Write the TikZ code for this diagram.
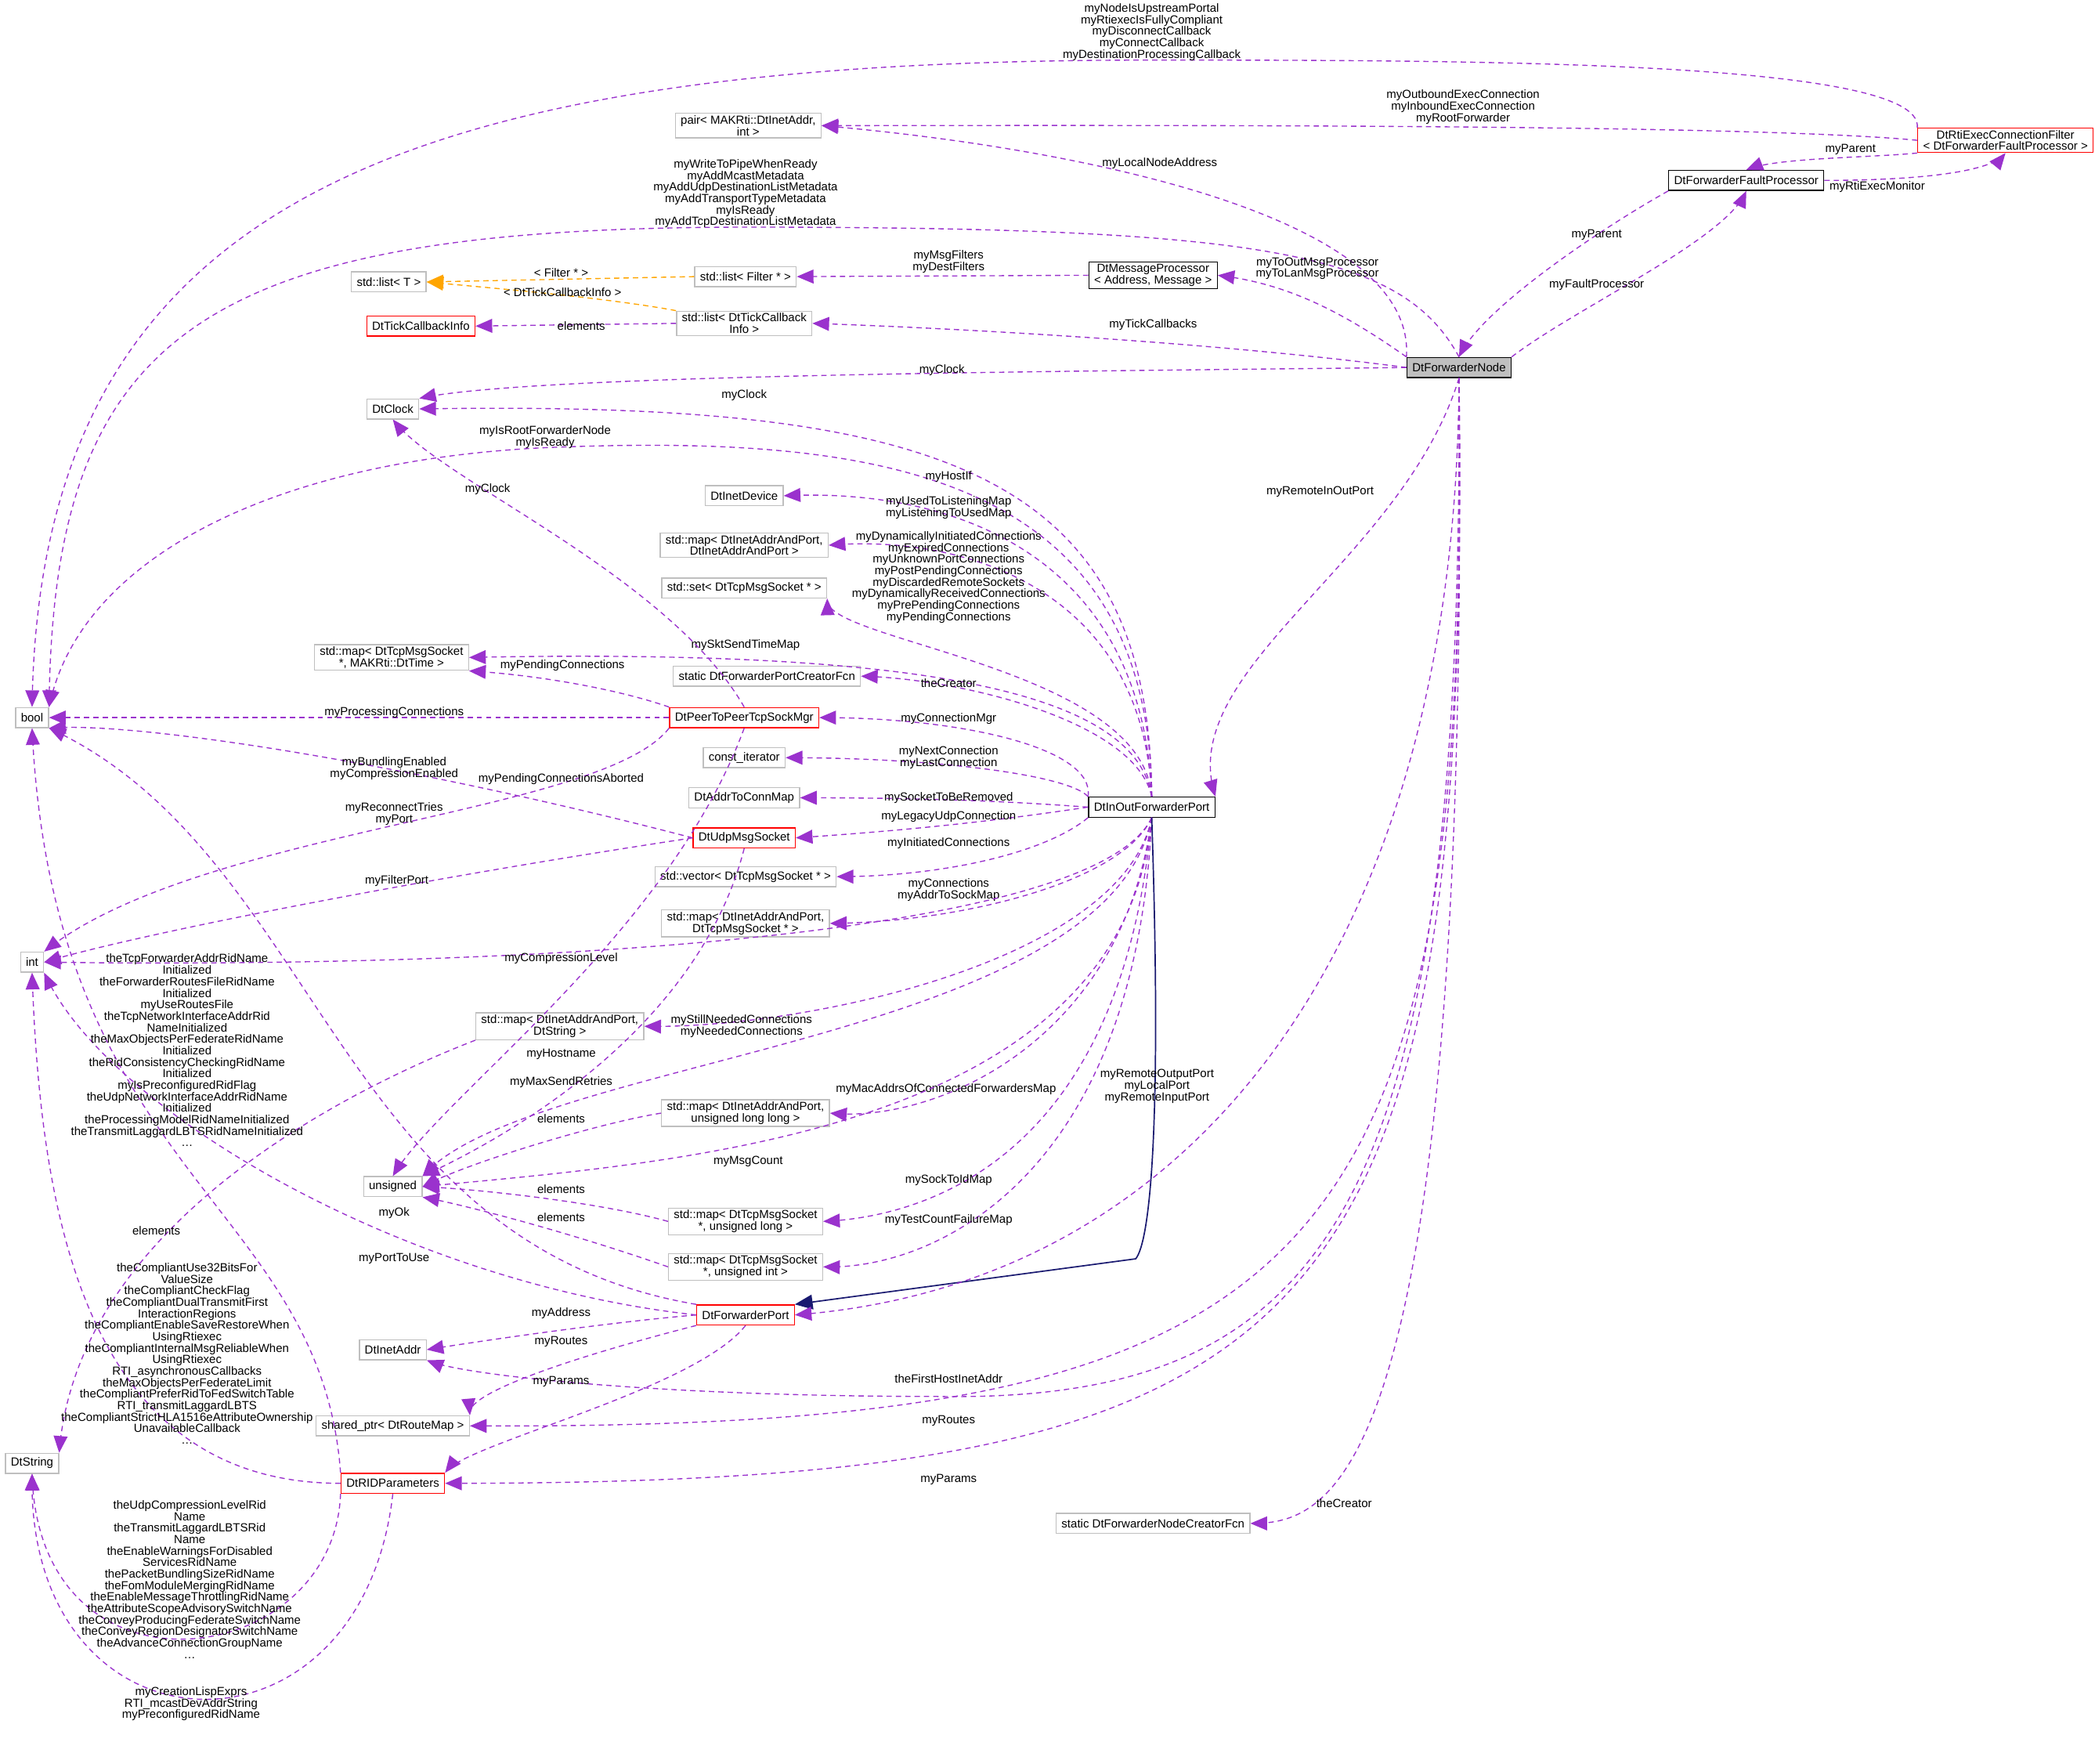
\documentclass[tikz,border=0pt]{standalone}
\usepackage{fontspec}
\setmainfont{Liberation Sans}
\usetikzlibrary{arrows}
\definecolor{edgepurple}{HTML}{9A32CD}
\definecolor{tmplorange}{HTML}{FFA500}
\definecolor{inhblue}{HTML}{191970}
\definecolor{boxgray}{HTML}{BFBFBF}
\newcommand{\lblfont}{\fontsize{4.4}{4.3}\selectfont}
\tikzset{
  box/.style={draw=boxgray, line width=0.4pt, font=\lblfont, align=center, minimum height=7.5pt, inner xsep=2pt, inner ysep=0.8pt},
  redbox/.style={box, draw=red},
  blackbox/.style={box, draw=black},
  lbl/.style={font=\lblfont, align=center, inner sep=0.5pt},
  edge/.style={draw=edgepurple, dashed, dash pattern=on 2pt off 1.5pt, line width=0.4pt, -triangle 45},
  tmpl/.style={edge, draw=tmplorange},
  inh/.style={draw=inhblue, line width=0.5pt, -triangle 45}
}
\begin{document}
\begin{tikzpicture}[x=0.5pt,y=-0.5pt]
\useasboundingbox (0,0) rectangle (1568,1320);

% Boxes
\node[box] (pair) at (560,94) {pair< MAKRti::DtInetAddr,\\ int >};
\node[redbox] (rtiFilter) at (1501,105) {DtRtiExecConnectionFilter\\< DtForwarderFaultProcessor >};
\node[blackbox] (faultProc) at (1307,135) {DtForwarderFaultProcessor};
\node[blackbox] (msgProc) at (863,206) {DtMessageProcessor\\< Address, Message >};
\node[box] (listT) at (291,211) {std::list< T >};
\node[box] (listFilter) at (558,207) {std::list< Filter * >};
\node[box] (listTick) at (557,242) {std::list< DtTickCallback\\Info >};
\node[redbox] (tickInfo) at (315,244) {DtTickCallbackInfo};
\node[blackbox, fill=boxgray] (fwdNode) at (1092,275) {DtForwarderNode};
\node[box] (clock) at (294,306) {DtClock};
\node[box] (inetDev) at (557,371) {DtInetDevice};
\node[box] (mapAddrAddr) at (557,408) {std::map< DtInetAddrAndPort,\\ DtInetAddrAndPort >};
\node[box] (setTcp) at (557,440) {std::set< DtTcpMsgSocket * >};
\node[box] (mapTcpTime) at (293,492) {std::map< DtTcpMsgSocket\\ *, MAKRti::DtTime >};
\node[box] (portCreator) at (574,506) {static DtForwarderPortCreatorFcn};
\node[box] (bool) at (24,537) {bool};
\node[redbox] (sockMgr) at (557,537) {DtPeerToPeerTcpSockMgr};
\node[box] (constIt) at (557,567) {const\_iterator};
\node[box] (addrMap) at (557,597) {DtAddrToConnMap};
\node[blackbox] (inOutPort) at (862,604) {DtInOutForwarderPort};
\node[redbox] (udpSock) at (557,627) {DtUdpMsgSocket};
\node[box] (vecTcp) at (558,656) {std::vector< DtTcpMsgSocket * >};
\node[box] (mapAddrTcp) at (558,691) {std::map< DtInetAddrAndPort,\\ DtTcpMsgSocket * >};
\node[box] (int) at (24,720) {int};
\node[box] (mapAddrStr) at (419,768) {std::map< DtInetAddrAndPort,\\ DtString >};
\node[box] (mapAddrULL) at (558,833) {std::map< DtInetAddrAndPort,\\ unsigned long long >};
\node[box] (unsigned) at (294,888) {unsigned};
\node[box] (mapTcpUL) at (558,914) {std::map< DtTcpMsgSocket\\ *, unsigned long >};
\node[box] (mapTcpUI) at (558,948) {std::map< DtTcpMsgSocket\\ *, unsigned int >};
\node[redbox] (fwdPort) at (558,984) {DtForwarderPort};
\node[box] (inetAddr) at (294,1010) {DtInetAddr};
\node[box] (routeMap) at (294,1067) {shared\_ptr< DtRouteMap >};
\node[box] (dtString) at (24,1095) {DtString};
\node[redbox] (ridParams) at (294,1110) {DtRIDParameters};
\node[box] (nodeCreator) at (863,1140) {static DtForwarderNodeCreatorFcn};

% Edges of DtRtiExecConnectionFilter and DtForwarderFaultProcessor
\draw[edge] (rtiFilter.north west) .. controls (1440,45) and (1100,45) .. (860,45) .. controls (300,45) and (30,150) .. (bool.north);
\node[lbl] (lRtiBool) at (862,24) {myNodeIsUpstreamPortal\\myRtiexecIsFullyCompliant\\myDisconnectCallback\\myConnectCallback\\myDestinationProcessingCallback};
\draw[edge] (rtiFilter.west) .. controls (1300,92) and (800,94) .. (pair.east);
\node[lbl] (lRtiPair) at (1095,80) {myOutboundExecConnection\\myInboundExecConnection\\myRootForwarder};
\draw[edge] (rtiFilter.south west) .. controls (1400,118) and (1330,118) .. (faultProc.north);
\node[lbl] (lRtiFault) at (1385,112) {myParent};
\draw[edge] (faultProc.east) .. controls (1440,135) and (1490,128) .. (rtiFilter.south);
\node[lbl] (lFaultRti) at (1405,140) {myRtiExecMonitor};
\draw[edge] (faultProc.south west) .. controls (1200,170) and (1110,230) .. (fwdNode.north);
\node[lbl] (lFaultNode) at (1195,176) {myParent};
\draw[edge] (fwdNode.north east) .. controls (1180,230) and (1290,180) .. (faultProc.south);
\node[lbl] (lNodeFault) at (1195,213) {myFaultProcessor};

% Edges of DtForwarderNode, upper part
\draw[edge] (fwdNode.north west) .. controls (1060,160) and (800,110) .. (pair.east);
\node[lbl] (lNodePair) at (868,122) {myLocalNodeAddress};
\draw[edge] (fwdNode.north) .. controls (1050,190) and (950,170) .. (560,170) .. controls (150,170) and (40,250) .. (bool.north east);
\node[lbl] (lNodeBool) at (558,145) {myWriteToPipeWhenReady\\myAddMcastMetadata\\myAddUdpDestinationListMetadata\\myAddTransportTypeMetadata\\myIsReady\\myAddTcpDestinationListMetadata};
\draw[edge] (fwdNode.north west) .. controls (1000,230) and (960,212) .. (msgProc.east);
\node[lbl] (lNodeMsg) at (986,201) {myToOutMsgProcessor\\myToLanMsgProcessor};
\draw[edge] (msgProc.west) -- (listFilter.east);
\node[lbl] (lMsgFilter) at (710,196) {myMsgFilters\\myDestFilters};
\draw[tmpl] (listFilter.west) -- (listT.east);
\node[lbl] (lFilterT) at (420,204) {< Filter * >};
\draw[tmpl] (listTick.north west) .. controls (450,222) and (350,214) .. (listT.east);
\node[lbl] (lTickT) at (421,219) {< DtTickCallbackInfo >};
\draw[edge] (listTick.west) -- (tickInfo.east);
\node[lbl] (lTickInfo) at (435,244) {elements};
\draw[edge] (fwdNode.west) .. controls (900,255) and (700,245) .. (listTick.east);
\node[lbl] (lNodeTick) at (863,243) {myTickCallbacks};
\draw[edge] (fwdNode.west) .. controls (800,278) and (400,280) .. (clock.north east);
\node[lbl] (lNodeClock) at (705,277) {myClock};

% Edges of DtInOutForwarderPort, upward
\draw[edge] (inOutPort.north) .. controls (860,350) and (700,300) .. (clock.east);
\node[lbl] (lPortClock) at (557,296) {myClock};
\draw[edge] (inOutPort.north) .. controls (860,350) and (650,325) .. (408,335) .. controls (200,345) and (60,420) .. (bool.north east);
\node[lbl] (lPortBool) at (408,327) {myIsRootForwarderNode\\myIsReady};
\draw[edge] (inOutPort.north) .. controls (855,420) and (720,365) .. (inetDev.east);
\node[lbl] (lPortDev) at (710,357) {myHostIf};
\draw[edge] (inOutPort.north) .. controls (855,440) and (720,400) .. (mapAddrAddr.east);
\node[lbl] (lPortAddrAddr) at (710,380) {myUsedToListeningMap\\myListeningToUsedMap};
\draw[edge] (inOutPort.north) .. controls (855,500) and (620,480) .. (setTcp.south east);
\node[lbl] (lPortSet) at (710,432) {myDynamicallyInitiatedConnections\\myExpiredConnections\\myUnknownPortConnections\\myPostPendingConnections\\myDiscardedRemoteSockets\\myDynamicallyReceivedConnections\\myPrePendingConnections\\myPendingConnections};
\draw[edge] (inOutPort.north) .. controls (850,520) and (700,485) .. (mapTcpTime.east);
\node[lbl] (lPortTime) at (558,483) {mySktSendTimeMap};
\draw[edge] (inOutPort.north) .. controls (850,540) and (720,508) .. (portCreator.east);
\node[lbl] (lPortCreator) at (710,511) {theCreator};
\draw[edge] (inOutPort.north west) .. controls (820,560) and (720,537) .. (sockMgr.east);
\node[lbl] (lPortMgr) at (710,538) {myConnectionMgr};
\draw[edge] (inOutPort.north west) .. controls (800,580) and (700,567) .. (constIt.east);
\node[lbl] (lPortIt) at (710,567) {myNextConnection\\myLastConnection};
\draw[edge] (inOutPort.west) .. controls (760,600) and (700,597) .. (addrMap.east);
\node[lbl] (lPortMap) at (710,597) {mySocketToBeRemoved};
\draw[edge] (inOutPort.west) .. controls (760,612) and (700,620) .. (udpSock.east);
\node[lbl] (lPortUdp) at (710,611) {myLegacyUdpConnection};

% Edges of DtPeerToPeerTcpSockMgr and DtUdpMsgSocket
\draw[edge] (sockMgr.north) .. controls (500,430) and (330,360) .. (clock.south);
\node[lbl] (lMgrClock) at (365,366) {myClock};
\draw[edge] (sockMgr.north west) .. controls (460,515) and (400,505) .. (mapTcpTime.south east);
\node[lbl] (lMgrTime) at (421,498) {myPendingConnections};
\draw[edge] (sockMgr.west) -- (bool.east);
\node[lbl] (lMgrBool) at (295,533) {myProcessingConnections};
\draw[edge] (sockMgr.south west) .. controls (450,610) and (150,620) .. (int.north east);
\node[lbl] (lMgrInt) at (295,609) {myReconnectTries\\myPort};
\draw[edge] (sockMgr.south) .. controls (500,700) and (330,820) .. (unsigned.north);
\node[lbl] (lMgrUns) at (420,583) {myPendingConnectionsAborted};
\draw[edge] (udpSock.west) .. controls (300,570) and (100,540) .. (bool.south east);
\node[lbl] (lUdpBool) at (295,575) {myBundlingEnabled\\myCompressionEnabled};
\draw[edge] (udpSock.west) .. controls (300,660) and (100,700) .. (int.east);
\node[lbl] (lUdpInt) at (297,659) {myFilterPort};
\draw[edge] (udpSock.south) .. controls (520,780) and (360,860) .. (unsigned.north east);
\node[lbl] (lUdpUns) at (420,810) {myMaxSendRetries};

% Edges of DtInOutForwarderPort, downward
\draw[edge] (inOutPort.south west) .. controls (780,640) and (700,656) .. (vecTcp.east);
\node[lbl] (lPortVec) at (710,631) {myInitiatedConnections};
\draw[edge] (inOutPort.south) .. controls (840,660) and (720,690) .. (mapAddrTcp.east);
\node[lbl] (lPortAddrTcp) at (710,666) {myConnections\\myAddrToSockMap};
\draw[edge] (inOutPort.south) .. controls (820,700) and (400,725) .. (int.east);
\node[lbl] (lPortInt) at (420,717) {myCompressionLevel};
\draw[edge] (inOutPort.south) .. controls (840,720) and (600,770) .. (mapAddrStr.east);
\node[lbl] (lPortStr) at (555,768) {myStillNeededConnections\\myNeededConnections};
\draw[edge] (mapAddrStr.south west) .. controls (300,800) and (60,900) .. (dtString.north east);
\node[lbl] (lStrString) at (117,921) {elements};
\draw[edge] (inOutPort.south) .. controls (830,780) and (400,790) .. (unsigned.north east);
\node[lbl] (lPortHost) at (420,789) {myHostname};
\draw[edge] (inOutPort.south) .. controls (840,780) and (700,840) .. (mapAddrULL.east);
\node[lbl] (lPortULL) at (708,815) {myMacAddrsOfConnectedForwardersMap};
\draw[edge] (mapAddrULL.west) .. controls (450,840) and (350,870) .. (unsigned.east);
\node[lbl] (lULLUns) at (420,837) {elements};
\draw[edge] (inOutPort.south) .. controls (840,850) and (500,870) .. (unsigned.east);
\node[lbl] (lPortCount) at (560,869) {myMsgCount};
\draw[edge] (inOutPort.south) .. controls (840,860) and (700,910) .. (mapTcpUL.east);
\node[lbl] (lPortUL) at (710,883) {mySockToIdMap};
\draw[edge] (mapTcpUL.west) .. controls (450,900) and (360,890) .. (unsigned.east);
\node[lbl] (lULUns) at (420,890) {elements};
\draw[edge] (inOutPort.south) .. controls (850,880) and (700,950) .. (mapTcpUI.east);
\node[lbl] (lPortUI) at (710,913) {myTestCountFailureMap};
\draw[edge] (mapTcpUI.west) .. controls (420,920) and (340,900) .. (unsigned.south east);
\node[lbl] (lUIUns) at (420,911) {elements};
\draw[inh] (inOutPort.south) .. controls (870,850) and (860,930) .. (850,942) -- (fwdPort.north east);

% Edges of DtForwarderNode, downward
\draw[edge] (fwdNode.south) .. controls (1050,420) and (880,500) .. (inOutPort.north east);
\node[lbl] (lNodePort) at (988,368) {myRemoteInOutPort};
\draw[edge] (fwdNode.south) .. controls (1090,700) and (900,960) .. (fwdPort.east);
\node[lbl] (lNodeFwdPort) at (866,813) {myRemoteOutputPort\\myLocalPort\\myRemoteInputPort};
\draw[edge] (fwdNode.south) .. controls (1095,900) and (1000,1050) .. (700,1045) .. controls (500,1045) and (350,1030) .. (inetAddr.south east);
\node[lbl] (lNodeAddr) at (710,1032) {theFirstHostInetAddr};
\draw[edge] (fwdNode.south) .. controls (1100,950) and (1000,1070) .. (routeMap.east);
\node[lbl] (lNodeRoutes) at (710,1063) {myRoutes};
\draw[edge] (fwdNode.south) .. controls (1100,1000) and (1000,1110) .. (ridParams.east);
\node[lbl] (lNodeParams) at (710,1107) {myParams};
\draw[edge] (fwdNode.south) .. controls (1100,1100) and (1000,1140) .. (nodeCreator.east);
\node[lbl] (lNodeCreator) at (1006,1125) {theCreator};

% Edges of DtForwarderPort
\draw[edge] (fwdPort.north west) .. controls (250,930) and (240,640) .. (bool.south east);
\node[lbl] (lFwdBool) at (295,908) {myOk};
\draw[edge] (fwdPort.west) .. controls (300,960) and (80,830) .. (int.south east);
\node[lbl] (lFwdInt) at (295,942) {myPortToUse};
\draw[edge] (fwdPort.west) .. controls (450,990) and (350,1005) .. (inetAddr.east);
\node[lbl] (lFwdAddr) at (420,983) {myAddress};
\draw[edge] (fwdPort.south west) .. controls (450,1010) and (350,1040) .. (routeMap.north east);
\node[lbl] (lFwdRoutes) at (420,1004) {myRoutes};
\draw[edge] (fwdPort.south) .. controls (520,1040) and (350,1080) .. (ridParams.north east);
\node[lbl] (lFwdParams) at (420,1034) {myParams};

% Edges of DtRIDParameters
\draw[edge] (ridParams.north west) .. controls (240,900) and (40,880) .. (bool.south);
\node[lbl] (lRidBool) at (140,786) {theTcpForwarderAddrRidName\\Initialized\\theForwarderRoutesFileRidName\\Initialized\\myUseRoutesFile\\theTcpNetworkInterfaceAddrRid\\NameInitialized\\theMaxObjectsPerFederateRidName\\Initialized\\theRidConsistencyCheckingRidName\\Initialized\\myIsPreconfiguredRidFlag\\theUdpNetworkInterfaceAddrRidName\\Initialized\\theProcessingModelRidNameInitialized\\theTransmitLaggardLBTSRidNameInitialized\\\dots};
\draw[edge] (ridParams.west) .. controls (60,1110) and (30,900) .. (int.south);
\node[lbl] (lRidInt) at (140,1013) {theCompliantUse32BitsFor\\ValueSize\\theCompliantCheckFlag\\theCompliantDualTransmitFirst\\InteractionRegions\\theCompliantEnableSaveRestoreWhen\\UsingRtiexec\\theCompliantInternalMsgReliableWhen\\UsingRtiexec\\RTI\_asynchronousCallbacks\\theMaxObjectsPerFederateLimit\\theCompliantPreferRidToFedSwitchTable\\RTI\_transmitLaggardLBTS\\theCompliantStrictHLA1516eAttributeOwnership\\UnavailableCallback\\\dots};
\draw[edge] (ridParams.south west) .. controls (250,1250) and (30,1280) .. (dtString.south);
\node[lbl] (lRidStr) at (142,1182) {theUdpCompressionLevelRid\\Name\\theTransmitLaggardLBTSRid\\Name\\theEnableWarningsForDisabled\\ServicesRidName\\thePacketBundlingSizeRidName\\theFomModuleMergingRidName\\theEnableMessageThrottlingRidName\\theAttributeScopeAdvisorySwitchName\\theConveyProducingFederateSwitchName\\theConveyRegionDesignatorSwitchName\\theAdvanceConnectionGroupName\\\dots};
\draw[edge] (ridParams.south) .. controls (270,1330) and (20,1320) .. (dtString.south);
\node[lbl] (lRidStr2) at (143,1275) {myCreationLispExprs\\RTI\_mcastDevAddrString\\myPreconfiguredRidName};
\end{tikzpicture}
\end{document}
